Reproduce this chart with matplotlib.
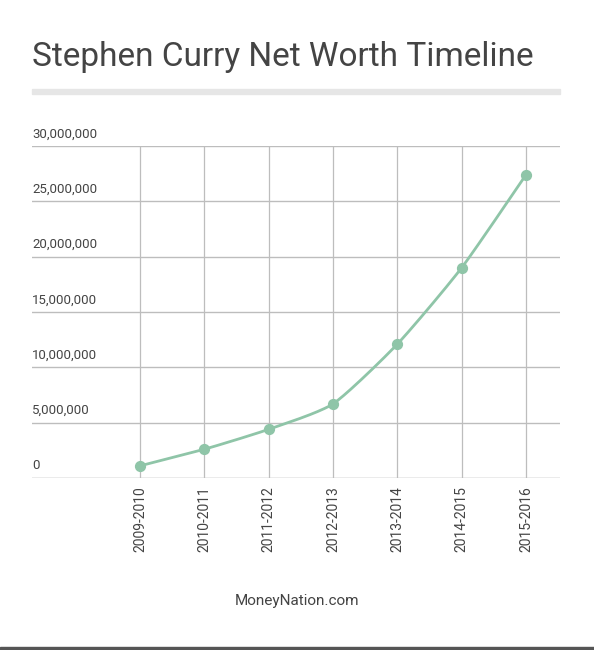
import numpy as np
import matplotlib.pyplot as plt

plt.rcParams['font.family'] = ['Roboto', 'DejaVu Sans']

seasons = ["2009-2010", "2010-2011", "2011-2012", "2012-2013",
           "2013-2014", "2014-2015", "2015-2016"]
net_worth = [1100000, 2600000, 4400000, 6700000, 12100000, 19000000, 27400000]
y_ticks = [0, 5000000, 10000000, 15000000, 20000000, 25000000, 30000000]

green = "#8fc5a8"
grid_c = "#bdbdbd"
text_c = "#444444"

fig = plt.figure(figsize=(5.94, 6.5), dpi=100)
ax = fig.add_axes([0.0539, 0.2646, 0.889, 0.5108])

x = np.arange(len(seasons))
y = np.array(net_worth, dtype=float)

# smooth the drawn line with a cardinal spline through the points
xs, ys = [], []
pts = np.column_stack([x, y])
pad = np.vstack([pts[0], pts, pts[-1]])
for i in range(1, len(pad) - 2):
    p0, p1, p2, p3 = pad[i - 1], pad[i], pad[i + 1], pad[i + 2]
    m1 = (p2 - p0) / 2 * 0.6
    m2 = (p3 - p1) / 2 * 0.6
    t = np.linspace(0, 1, 30)[:, None]
    h00 = 2 * t**3 - 3 * t**2 + 1
    h10 = t**3 - 2 * t**2 + t
    h01 = -2 * t**3 + 3 * t**2
    h11 = t**3 - t**2
    seg = h00 * p1 + h10 * m1 + h01 * p2 + h11 * m2
    xs.extend(seg[:, 0]); ys.extend(seg[:, 1])
ax.plot(xs, ys, color=green, lw=2, zorder=3)
ax.scatter(x, y, s=50, color=green, zorder=4)

ax.set_xlim(-1.68, 6.53)
ax.set_ylim(0, 30000000)
for v in y_ticks:
    ax.axhline(v, color="#999999" if v == 0 else grid_c, lw=1, zorder=1)
    ax.text(-1.68, v + 500000, f"{v:,}", ha="left", va="bottom",
            fontsize=9.5, color=text_c)
for xi in x:
    ax.axvline(xi, color=grid_c, lw=0.9, zorder=1)

ax.set_yticks([])
ax.set_xticks(x)
ax.set_xticklabels(seasons, rotation=90, fontsize=10, color=text_c)
ax.tick_params(axis="x", length=0, pad=6)
for s in ax.spines.values():
    s.set_visible(False)

fig.text(0.0539, 0.912, "Stephen Curry Net Worth Timeline", fontsize=24,
         color=text_c, ha="left", va="center")
fig.patches.append(plt.Rectangle((0.0539, 0.855), 0.889, 0.008,
                                 transform=fig.transFigure, color="#e6e6e6"))
fig.text(0.5, 0.07, "MoneyNation.com", fontsize=11, color=text_c, ha="center")
fig.patches.append(plt.Rectangle((0, 0), 1, 0.004,
                                 transform=fig.transFigure, color="#555555"))

fig.savefig("out.png", dpi=100)
